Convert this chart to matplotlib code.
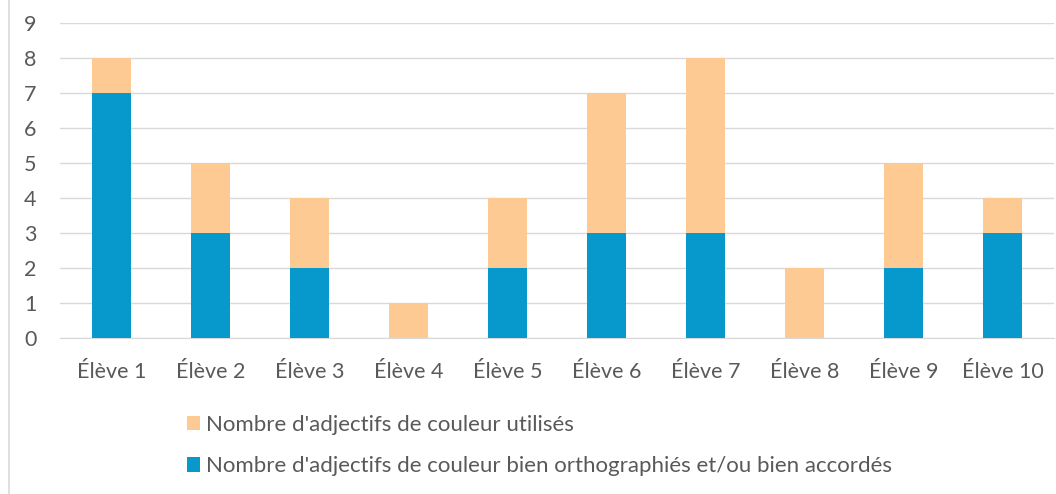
import matplotlib.pyplot as plt
from matplotlib.lines import Line2D

eleves = ['Élève 1', 'Élève 2', 'Élève 3', 'Élève 4', 'Élève 5',
          'Élève 6', 'Élève 7', 'Élève 8', 'Élève 9', 'Élève 10']
utilises = [8, 5, 4, 1, 4, 7, 8, 2, 5, 4]
bien_ecrits = [7, 3, 2, 0, 2, 3, 3, 0, 2, 3]

lab_util = "Nombre d'adjectifs de couleur utilisés"
lab_bien = "Nombre d'adjectifs de couleur bien orthographiés et/ou bien accordés"

plt.rcParams['font.family'] = ['Lato', 'DejaVu Sans']
txt = '#595959'

fig = plt.figure(figsize=(10.56, 4.94), dpi=100)
ax = fig.add_axes([0.0568, 0.316, 0.9412, 0.637])

x = range(len(eleves))
b1 = ax.bar(x, utilises, width=0.4, color='#fdca93', label=lab_util, zorder=2)
b2 = ax.bar(x, bien_ecrits, width=0.4, color='#0899cc', label=lab_bien, zorder=3)

ax.set_xlim(-0.52, len(eleves) - 0.48)
ax.set_ylim(0, 9)
ax.set_yticks(range(10))
ax.set_xticks(list(x))
ax.set_xticklabels(eleves)
ax.yaxis.grid(True, color='#d9d9d9', linewidth=1)
ax.set_axisbelow(True)
for s in ['top', 'right', 'left']:
    ax.spines[s].set_visible(False)
ax.spines['bottom'].set_color('#d9d9d9')
ax.tick_params(length=0, labelsize=15.5, colors=txt, pad=17)
ax.tick_params(axis='y', pad=17)

fig.legend(handles=[b1, b2], loc='upper left', bbox_to_anchor=(0.1666, 0.182),
           frameon=False, fontsize=16, labelcolor=txt, handlelength=0.6,
           handleheight=0.6, handletextpad=0.25, labelspacing=0.95, borderpad=0)

fig.add_artist(Line2D([0.0085, 0.0085], [0, 1], color='#d9d9d9', lw=1.2))

fig.savefig('out.png', dpi=100)
